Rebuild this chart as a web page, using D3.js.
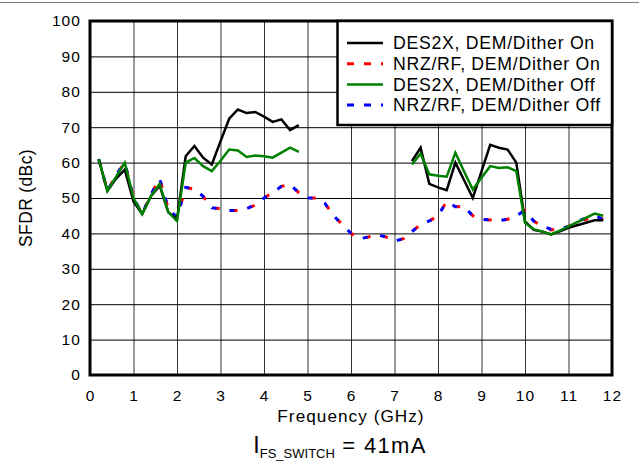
<!DOCTYPE html>
<html>
<head>
<meta charset="utf-8">
<script src="https://cdn.jsdelivr.net/npm/d3@7"></script>
<style>
  body { margin: 0; background: #fff; }
  text { font-family: "Liberation Sans", Arial, sans-serif; fill: #000; }
</style>
</head>
<body>
<svg id="chart" width="639" height="464"></svg>
<script>
// tick values
var xTicks = [0, 1, 2, 3, 4, 5, 6, 7, 8, 9, 10, 11, 12];
var yTicks = [0, 10, 20, 30, 40, 50, 60, 70, 80, 90, 100];

// solid series, first band (GHz)
var freqLow = [0.2, 0.4, 0.6, 0.8, 1.0, 1.2, 1.4, 1.6, 1.8, 2.0, 2.2, 2.4,
               2.6, 2.8, 3.0, 3.2, 3.4, 3.6, 3.8, 4.0, 4.2, 4.4, 4.6, 4.8];
var des2xOnLow  = [61, 52, 55.5, 58, 49, 45.5, 50.5, 53.5, 46, 44, 61.8, 64.7,
                   61.4, 59.5, 66, 72.4, 75, 74, 74.3, 73, 71.5, 72.2, 69.2, 70.6];
var des2xOffLow = [61, 52, 56, 60, 50, 45.5, 50.5, 54, 46, 43.5, 60, 61.3,
                   59, 57.6, 60.5, 63.7, 63.4, 61.6, 62, 61.8, 61.4, 62.8, 64.2, 63];

// solid series, second band (GHz)
var freqHigh = [7.4, 7.6, 7.8, 8.0, 8.2, 8.4, 8.6, 8.8, 9.0, 9.2, 9.4, 9.6,
                9.8, 10.0, 10.2, 10.4, 10.6, 10.8, 11.0, 11.2, 11.4, 11.6, 11.8];
var des2xOnHigh  = [60.4, 64.2, 54, 53, 52.2, 60, 55, 50, 57.5, 65, 64.2, 63.7,
                    60, 43.4, 41, 40.5, 39.7, 40.6, 41.6, 42.3, 43, 43.7, 43.7];
var des2xOffHigh = [59.5, 62.5, 56.7, 56.3, 56, 62.8, 57.5, 52.4, 55.7, 59, 58.5, 58.7,
                    57.6, 43, 41.2, 40.5, 39.7, 40.8, 42, 43.2, 44.4, 45.6, 45];

// dashed series, full range (GHz)
var freqAll = [0.2, 0.4, 0.6, 0.8, 1.0, 1.2, 1.4, 1.6, 1.8, 2.0, 2.2, 2.4, 2.6, 2.8, 3.0,
               3.2, 3.4, 3.6, 3.8, 4.0, 4.2, 4.4, 4.6, 4.8, 5.0, 5.2, 5.4, 5.6, 5.8, 6.0,
               6.2, 6.4, 6.6, 6.8, 7.0, 7.2, 7.4, 7.6, 7.8, 8.0, 8.2, 8.4, 8.6, 8.8, 9.0,
               9.2, 9.4, 9.6, 9.8, 10.0, 10.2, 10.4, 10.6, 10.8, 11.0, 11.2, 11.4, 11.6, 11.8];
var nrzOn  = [61, 52, 56.5, 60, 50, 45.5, 51, 55.5, 47, 44.5, 53, 52.5, 50.5, 47.2, 47,
              46.5, 46.5, 47, 48, 50, 51.5, 53.3, 53.8, 51.5, 50, 50, 48.5, 45, 42.5, 40,
              38.5, 39, 39.7, 39, 37.8, 38.5, 40.5, 42.5, 43.5, 45, 49, 47.6, 47.5, 45, 44,
              43.8, 43.6, 44, 45, 46.5, 43.5, 42, 41, 41.2, 42, 43, 44, 44.5, 44];
var nrzOff = [61, 52, 56.5, 60, 50, 45.5, 51, 55.5, 47, 44.5, 53, 52.5, 50.5, 47.2, 47,
              46.5, 46.5, 47, 48, 50, 51.5, 53.3, 53.8, 51.5, 50, 50, 48.5, 45, 42.5, 40,
              38.5, 39, 39.7, 39, 37.8, 38.5, 40.5, 42.5, 43.5, 45, 49, 47.5, 47.5, 45, 44,
              43.8, 43.6, 44, 45, 46.5, 43.5, 42, 41.2, 41.2, 42, 43.4, 44.3, 45, 44];

var legendLabels = ["DES2X, DEM/Dither On", "NRZ/RF, DEM/Dither On",
                    "DES2X, DEM/Dither Off", "NRZ/RF, DEM/Dither Off"];
var legendColors = ["#000000", "#ff0000", "#008000", "#0000ff"];

var svg = d3.select("#chart");

var MARGINS = {top: 21, right: 612, bottom: 375, left: 90};

var xScale = d3.scaleLinear().domain([0, 12]).range([MARGINS.left, MARGINS.right]);
var yScale = d3.scaleLinear().domain([0, 100]).range([MARGINS.bottom, MARGINS.top]);

// thin rule at the very top of the figure
svg.append("line")
    .attr("x1", 0).attr("x2", 639)
    .attr("y1", 2.5).attr("y2", 2.5)
    .style("stroke", "#808080")
    .style("stroke-width", 1);

// grid
var xGrid = d3.axisBottom(xScale)
    .tickValues(xTicks)
    .tickSize(-(MARGINS.bottom - MARGINS.top))
    .tickFormat("");
svg.append("g")
    .attr("transform", "translate(0," + MARGINS.bottom + ")")
    .call(xGrid)
    .call(function(g) {
        g.select(".domain").remove();
        g.selectAll("line").style("stroke", "#333").style("stroke-width", 1);
    });

var yGrid = d3.axisLeft(yScale)
    .tickValues(yTicks)
    .tickSize(-(MARGINS.right - MARGINS.left))
    .tickFormat("");
svg.append("g")
    .attr("transform", "translate(" + MARGINS.left + ",0)")
    .call(yGrid)
    .call(function(g) {
        g.select(".domain").remove();
        g.selectAll("line").style("stroke", "#000").style("stroke-width", 1);
    });

// tick labels
var xAxis = d3.axisBottom(xScale).tickValues(xTicks).tickSize(0).tickPadding(15);
svg.append("g")
    .attr("transform", "translate(0," + MARGINS.bottom + ")")
    .call(xAxis)
    .call(function(g) {
        g.select(".domain").remove();
        g.selectAll("text")
            .attr("font-family", null)
            .attr("font-size", null)
            .style("font-size", "15.5px")
            .style("letter-spacing", "0.07em");
    });

var yAxis = d3.axisLeft(yScale).tickValues(yTicks).tickSize(0).tickPadding(9);
svg.append("g")
    .attr("transform", "translate(" + MARGINS.left + ",0)")
    .call(yAxis)
    .call(function(g) {
        g.select(".domain").remove();
        g.selectAll("text")
            .attr("font-family", null)
            .attr("font-size", null)
            .style("font-size", "15.5px")
            .style("letter-spacing", "0.07em");
    });

function makeLine(freqs, vals) {
    var pts = [];
    for (var i = 0; i < freqs.length; i++) {
        pts.push({f: freqs[i], v: vals[i]});
    }
    return d3.line()
        .x(function(d) { return xScale(d.f); })
        .y(function(d) { return yScale(d.v); })(pts);
}

var plot = svg.append("g");

// dashed NRZ/RF traces, red just behind blue
plot.append("path")
    .attr("d", makeLine(freqAll, nrzOn))
    .attr("fill", "none")
    .style("stroke", "#ff0000")
    .style("stroke-width", 3)
    .style("stroke-dasharray", "5,13")
    .style("stroke-dashoffset", -3);
plot.append("path")
    .attr("d", makeLine(freqAll, nrzOff))
    .attr("fill", "none")
    .style("stroke", "#0000ff")
    .style("stroke-width", 3)
    .style("stroke-dasharray", "5,13");

// solid DES2X traces
[[freqLow, des2xOnLow], [freqHigh, des2xOnHigh]].forEach(function(s) {
    plot.append("path")
        .attr("d", makeLine(s[0], s[1]))
        .attr("fill", "none")
        .style("stroke", "#000")
        .style("stroke-width", 2.5)
        .style("stroke-linejoin", "miter");
});
[[freqLow, des2xOffLow], [freqHigh, des2xOffHigh]].forEach(function(s) {
    plot.append("path")
        .attr("d", makeLine(s[0], s[1]))
        .attr("fill", "none")
        .style("stroke", "#008000")
        .style("stroke-width", 2.5)
        .style("stroke-linejoin", "miter");
});

// plot frame
svg.append("rect")
    .attr("x", MARGINS.left).attr("y", MARGINS.top)
    .attr("width", MARGINS.right - MARGINS.left)
    .attr("height", MARGINS.bottom - MARGINS.top)
    .attr("fill", "none")
    .style("stroke", "#000")
    .style("stroke-width", 3);

// legend
var legend = svg.append("g");
legend.append("rect")
    .attr("x", 337.5).attr("y", MARGINS.top)
    .attr("width", MARGINS.right - 337.5).attr("height", 104)
    .attr("fill", "#fff")
    .style("stroke", "#000")
    .style("stroke-width", 2.5);
for (var i = 0; i < legendLabels.length; i++) {
    var ly = 43 + i * 20.7;
    legend.append("line")
        .attr("x1", 347).attr("x2", 383)
        .attr("y1", ly).attr("y2", ly)
        .style("stroke", legendColors[i])
        .style("stroke-width", i % 2 === 0 ? 2.5 : 3)
        .style("stroke-dasharray", i % 2 === 0 ? null : "7,10");
    legend.append("text")
        .attr("x", 393).attr("y", ly)
        .attr("dy", "0.36em")
        .style("font-size", "17.7px")
        .style("letter-spacing", "0.04em")
        .text(legendLabels[i]);
}

// axis titles
svg.append("text")
    .attr("x", (MARGINS.left + MARGINS.right) / 2)
    .attr("y", 421.7)
    .attr("text-anchor", "middle")
    .style("font-size", "17.2px")
    .style("letter-spacing", "0.06em")
    .text("Frequency (GHz)");

svg.append("text")
    .attr("transform", "translate(32," + (MARGINS.top + MARGINS.bottom) / 2 + ") rotate(-90)")
    .attr("text-anchor", "middle")
    .style("font-size", "17.5px")
    .style("letter-spacing", "0.02em")
    .text("SFDR (dBc)");

// caption with subscript
var cap = svg.append("text")
    .attr("x", 340).attr("y", 453)
    .attr("text-anchor", "middle")
    .style("font-size", "22px");
cap.append("tspan").style("font-size", "23px").text("I");
cap.append("tspan").attr("dy", 5).style("font-size", "13px").text("FS_SWITCH");
cap.append("tspan").attr("dy", -5).style("letter-spacing", "0.06em").text(" = 41mA");
</script>
</body>
</html>
